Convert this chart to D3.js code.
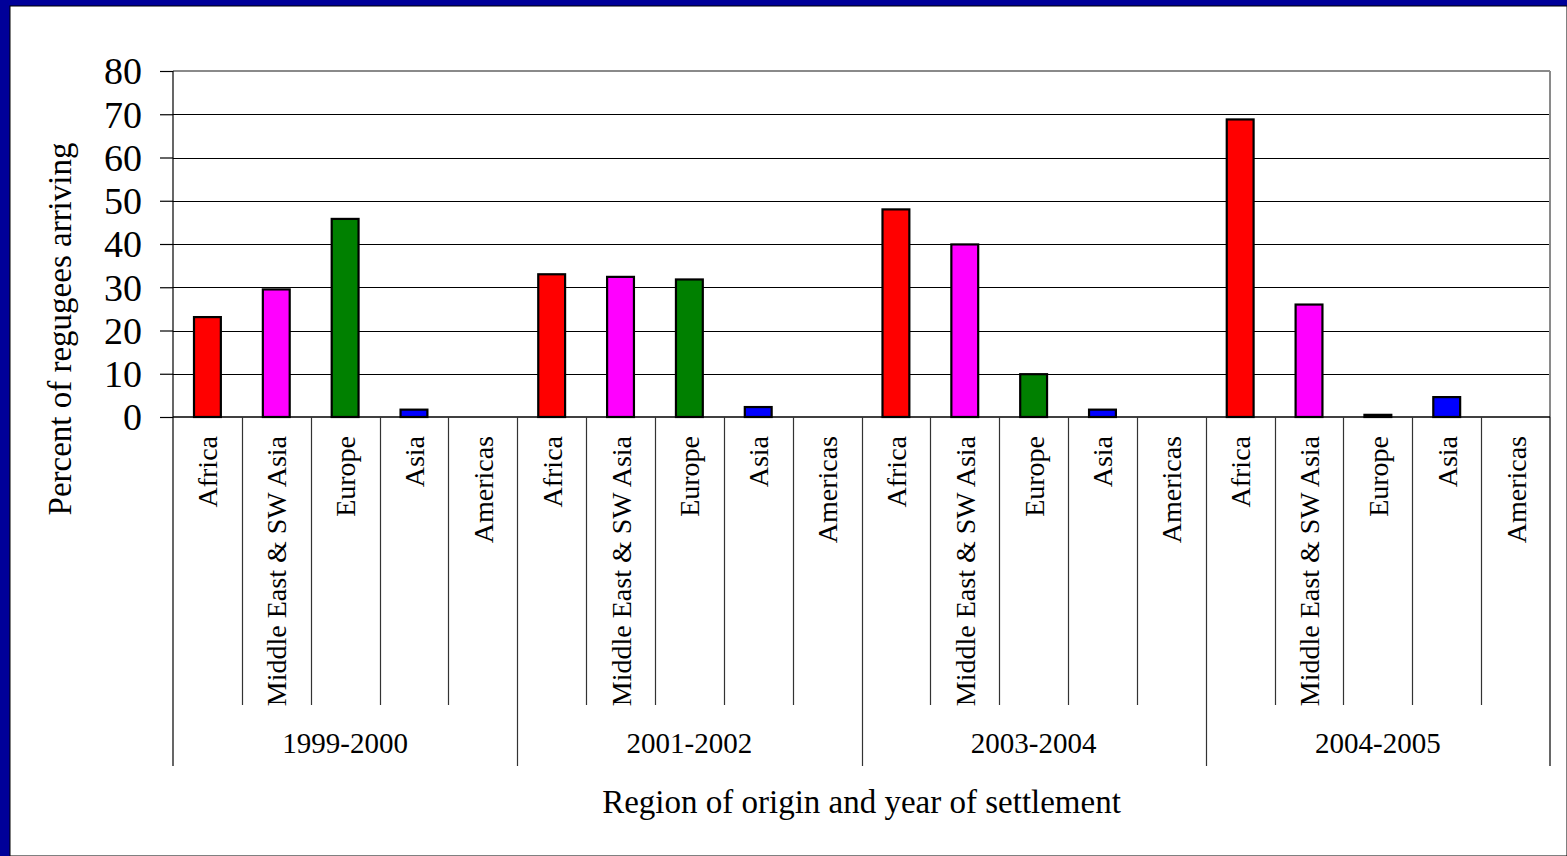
<!DOCTYPE html>
<html>
<head>
<meta charset="utf-8">
<script src="https://cdn.jsdelivr.net/npm/d3@7"></script>
<style>
  html, body { margin: 0; padding: 0; background: #000099; }
  svg { display: block; }
</style>
</head>
<body>
<svg id="chart" width="1567" height="856"></svg>
<script>
const periods = ["1999-2000", "2001-2002", "2003-2004", "2004-2005"];
const regions = ["Africa", "Middle East & SW Asia", "Europe", "Asia", "Americas"];
const regionColors = ["#ff0000", "#ff00ff", "#008000", "#0000ff", "#00ffff"];
const values1999 = [23.1, 29.5, 45.8, 1.7, 0];
const values2001 = [33.0, 32.4, 31.8, 2.3, 0];
const values2003 = [48.0, 39.9, 9.9, 1.7, 0];
const values2004 = [68.8, 26.0, 0.5, 4.6, 0];
const yTicks = [0, 10, 20, 30, 40, 50, 60, 70, 80];
const yTitle = "Percent of regugees arriving";
const xTitle = "Region of origin and year of settlement";

(function () {
const seriesByPeriod = [values1999, values2001, values2003, values2004];
const rows = [];
periods.forEach((p, pi) => {
  regions.forEach((r, ri) => {
    rows.push({ key: p + "|" + r, period: p, region: r, ri: ri, value: seriesByPeriod[pi][ri] });
  });
});

const svg = d3.select("#chart");
const W = 1567, H = 856;
svg.append("rect").attr("x", 0).attr("y", 0).attr("width", W).attr("height", H).attr("fill", "#000099");
svg.append("rect").attr("x", 10).attr("y", 6).attr("width", W - 10).attr("height", H - 6)
  .attr("fill", "#ffffff").attr("stroke", "#000").attr("stroke-width", 1);

const pLeft = 173, pRight = 1550, pTop = 71, pBottom = 417;
const innerEnd = 705, groupEnd = 766;

const x = d3.scaleBand().domain(rows.map(d => d.key)).range([pLeft, pRight]).padding(0);
const y = d3.scaleLinear().domain([0, 80]).range([pBottom, pTop]);

const font = "'Liberation Serif', 'Times New Roman', serif";

// gridlines
svg.append("g").selectAll("line").data(yTicks.filter(t => t > 0 && t < 80)).join("line")
  .attr("x1", pLeft).attr("x2", pRight)
  .attr("y1", d => Math.round(y(d)) + 0.5).attr("y2", d => Math.round(y(d)) + 0.5)
  .attr("stroke", "#000").attr("stroke-width", 1.2);

// plot border (top & right gray)
svg.append("line").attr("x1", pLeft).attr("x2", pRight).attr("y1", y(80)).attr("y2", y(80))
  .attr("stroke", "#8a8a8a").attr("stroke-width", 2);
svg.append("line").attr("x1", pRight).attr("x2", pRight).attr("y1", y(80)).attr("y2", pBottom)
  .attr("stroke", "#8a8a8a").attr("stroke-width", 2);

// bars
const bw = x.bandwidth() * 0.39;
svg.append("g").selectAll("rect").data(rows.filter(d => d.value > 0)).join("rect")
  .attr("x", d => x(d.key) + x.bandwidth() / 2 - bw / 2)
  .attr("y", d => y(d.value))
  .attr("width", bw)
  .attr("height", d => y(0) - y(d.value))
  .attr("fill", d => regionColors[d.ri])
  .attr("stroke", "#000").attr("stroke-width", 2.2);

// y axis
const yAxis = d3.axisLeft(y).tickValues(yTicks).tickSize(13).tickPadding(18).tickFormat(d3.format("d"));
const ya = svg.append("g").attr("transform", `translate(${pLeft},0)`).call(yAxis);
ya.select(".domain").remove();
ya.selectAll(".tick line").attr("stroke", "#000").attr("stroke-width", 1.2);
ya.selectAll(".tick text").attr("font-family", font).attr("font-size", 38).attr("fill", "#000")
  .attr("dy", "0.34em");
svg.append("line").attr("x1", pLeft).attr("x2", pLeft).attr("y1", pTop).attr("y2", groupEnd)
  .attr("stroke", "#000").attr("stroke-width", 1.2);

// x axis baseline
svg.append("line").attr("x1", pLeft).attr("x2", pRight).attr("y1", pBottom).attr("y2", pBottom)
  .attr("stroke", "#000").attr("stroke-width", 1.5);

// category dividers
rows.forEach((d, i) => {
  if (i === 0) return;
  const xx = Math.round(x(d.key)) + 0.5;
  const isGroup = d.ri === 0;
  svg.append("line").attr("x1", xx).attr("x2", xx).attr("y1", pBottom).attr("y2", isGroup ? groupEnd : innerEnd)
    .attr("stroke", "#333").attr("stroke-width", 1.2);
});
svg.append("line").attr("x1", pRight).attr("x2", pRight).attr("y1", pBottom).attr("y2", groupEnd)
  .attr("stroke", "#000").attr("stroke-width", 1.2);

// category labels (rotated)
svg.append("g").selectAll("text").data(rows).join("text")
  .attr("transform", d => `translate(${x(d.key) + x.bandwidth() / 2 + 10},436) rotate(-90)`)
  .attr("text-anchor", "end")
  .attr("font-family", font).attr("font-size", 28).attr("fill", "#000")
  .text(d => d.region);

// group labels
const groupScale = d3.scaleBand().domain(periods).range([pLeft, pRight]).padding(0);
svg.append("g").selectAll("text").data(periods).join("text")
  .attr("x", d => groupScale(d) + groupScale.bandwidth() / 2)
  .attr("y", 753)
  .attr("text-anchor", "middle")
  .attr("font-family", font).attr("font-size", 29).attr("fill", "#000")
  .text(d => d);

// axis titles
svg.append("text")
  .attr("x", (pLeft + pRight) / 2).attr("y", 813)
  .attr("text-anchor", "middle")
  .attr("font-family", font).attr("font-size", 33).attr("fill", "#000")
  .text(xTitle);

svg.append("text")
  .attr("transform", `translate(71,329) rotate(-90)`)
  .attr("text-anchor", "middle")
  .attr("font-family", font).attr("font-size", 33).attr("fill", "#000")
  .text(yTitle);
})();
</script>
</body>
</html>
